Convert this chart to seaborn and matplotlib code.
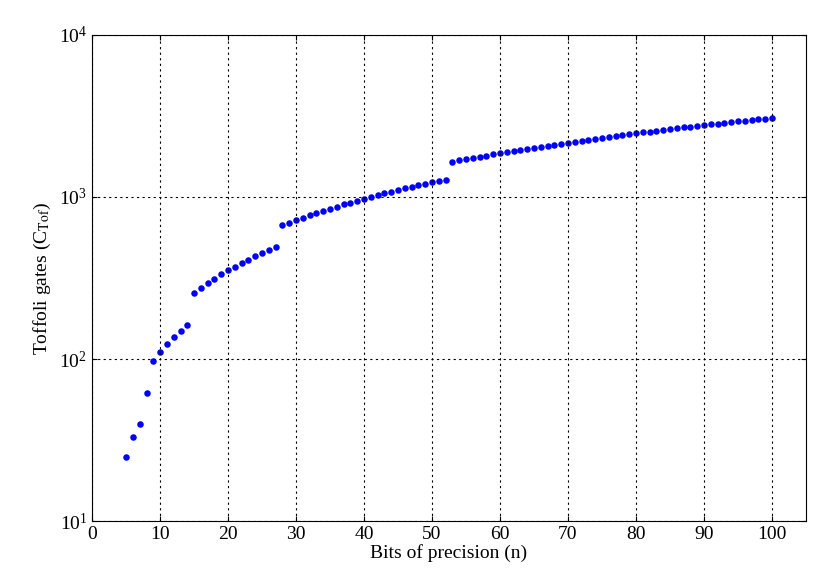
import matplotlib
matplotlib.use("Agg")
import matplotlib.pyplot as plt
import seaborn as sns

bits = list(range(5, 101))
gates = ([25, 33, 40, 62, 97, 110, 123, 137, 150, 163]
         + [257, 276, 295, 314, 334, 353, 372, 392, 411, 430, 450, 470, 490]
         + [670, 695, 721, 746, 772, 797, 822, 848, 873, 899, 924, 950, 975,
            1000, 1026, 1051, 1077, 1102, 1128, 1153, 1178, 1204, 1229, 1255, 1280]
         + [1650, 1680, 1711, 1741, 1772, 1802, 1832, 1863, 1893, 1924,
            1954, 1984, 2015, 2045, 2076, 2106, 2136, 2167, 2197, 2228,
            2258, 2288, 2319, 2349, 2380, 2410, 2440, 2471, 2501, 2532,
            2562, 2592, 2623, 2653, 2684, 2714, 2744, 2775, 2805, 2836,
            2866, 2896, 2927, 2957, 2988, 3018, 3048, 3079])

plt.rcParams["font.family"] = "Liberation Serif"
plt.rcParams["mathtext.fontset"] = "stix"
fig = plt.figure(figsize=(8.3, 5.81), dpi=100)
ax = fig.add_axes([0.111, 0.103, 0.86, 0.837])

sns.scatterplot(x=bits, y=gates, ax=ax, color="blue", s=22, edgecolor="blue", linewidth=0)

ax.set_yscale("log")
ax.set_xlim(0, 105)
ax.set_ylim(10, 10000)
ax.set_xticks(range(0, 101, 10))
ax.grid(True, which="major", linestyle=(0, (2, 3)), color="black", linewidth=0.8)
ax.minorticks_off()
ax.tick_params(direction="in", labelsize=14, top=True, right=True)
ax.set_xlabel("Bits of precision (n)", fontsize=14, labelpad=1)
ax.set_ylabel(r"Toffoli gates (C$_{\mathrm{Tof}}$)", fontsize=14)
for s in ax.spines.values():
    s.set_color("black")
    s.set_linewidth(0.8)

fig.savefig("out.png", dpi=100)
